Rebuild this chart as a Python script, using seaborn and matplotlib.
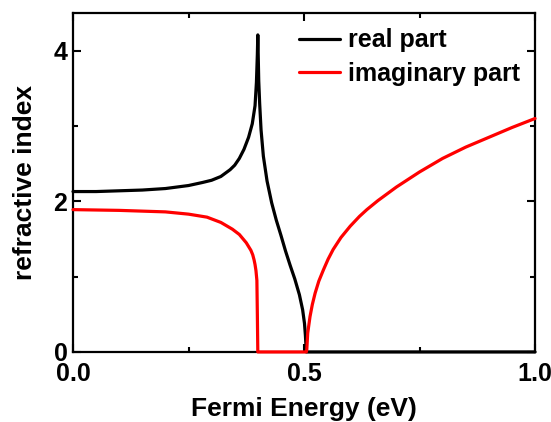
import matplotlib
matplotlib.use("Agg")
import matplotlib.pyplot as plt
import seaborn as sns
import pandas as pd
from matplotlib.ticker import MultipleLocator

# Fermi energy (eV) and refractive index values
real_x = [0.000, 0.050, 0.100, 0.150, 0.200, 0.250, 0.280, 0.300, 0.320, 0.340,
          0.350, 0.360, 0.370, 0.380, 0.388, 0.394, 0.397, 0.399, 0.400,
          0.401, 0.402, 0.404, 0.407, 0.412, 0.420, 0.430, 0.440, 0.450,
          0.460, 0.470, 0.480, 0.490, 0.497, 0.501, 0.503, 0.505, 0.600,
          0.800, 1.000]
real_y = [2.13, 2.13, 2.14, 2.15, 2.17, 2.21, 2.25, 2.28, 2.33, 2.42,
          2.48, 2.57, 2.69, 2.85, 3.03, 3.27, 3.58, 3.95, 4.21,
          3.90, 3.60, 3.30, 2.95, 2.60, 2.27, 1.98, 1.75, 1.55,
          1.34, 1.15, 0.97, 0.76, 0.56, 0.38, 0.22, 0.00, 0.00,
          0.00, 0.00]

imag_x = [0.000, 0.100, 0.200, 0.250, 0.290, 0.320, 0.345, 0.360, 0.375, 0.380,
          0.385, 0.389, 0.392, 0.394, 0.396, 0.398, 0.399, 0.400, 0.505, 0.506,
          0.508, 0.513, 0.518, 0.524, 0.532, 0.542, 0.552, 0.563, 0.580, 0.600,
          0.620, 0.636, 0.660, 0.680, 0.700, 0.750, 0.800, 0.850, 0.900, 0.950,
          1.000]
imag_y = [1.89, 1.88, 1.86, 1.83, 1.79, 1.72, 1.63, 1.56, 1.45, 1.40,
          1.35, 1.29, 1.22, 1.16, 1.08, 0.95, 0.50, 0.00, 0.00, 0.03,
          0.25, 0.47, 0.63, 0.78, 0.94, 1.09, 1.23, 1.36, 1.52, 1.67,
          1.80, 1.89, 2.01, 2.10, 2.19, 2.39, 2.57, 2.72, 2.85, 2.98,
          3.10]

series_labels = ["real part", "imaginary part"]
series_colors = ["black", "red"]

x_ticks = [0.0, 0.5, 1.0]
x_tick_labels = ["0.0", "0.5", "1.0"]
y_ticks = [0, 2, 4]
y_tick_labels = ["0", "2", "4"]

sns.set_style("ticks")
plt.rcParams["font.family"] = ["Liberation Sans", "DejaVu Sans"]
plt.rcParams["font.weight"] = "bold"
plt.rcParams["text.color"] = "black"
plt.rcParams["axes.labelcolor"] = "black"
plt.rcParams["xtick.color"] = "black"
plt.rcParams["ytick.color"] = "black"

fig = plt.figure(figsize=(5.51, 4.22), dpi=100)
ax = fig.add_axes([0.1325, 0.166, 0.8385, 0.803])

frames = [pd.DataFrame({"E": real_x, "n": real_y}),
          pd.DataFrame({"E": imag_x, "n": imag_y})]
for df, lab, col in zip(frames, series_labels, series_colors):
    sns.lineplot(data=df, x="E", y="n", ax=ax, sort=False, estimator=None,
                 color=col, linewidth=2.3, label=lab, clip_on=False, zorder=5)

ax.set_xlim(0, 1.0)
ax.set_ylim(0, 4.5)
ax.set_xticks(x_ticks)
ax.set_xticklabels(x_tick_labels)
ax.set_yticks(y_ticks)
ax.set_yticklabels(y_tick_labels)
ax.xaxis.set_minor_locator(MultipleLocator(0.25))
ax.yaxis.set_minor_locator(MultipleLocator(1))

ax.tick_params(which="both", direction="in", top=True, right=True,
               width=1.5, color="black", labelcolor="black")
ax.tick_params(which="major", length=6, labelsize=18)
ax.tick_params(axis="x", which="major", pad=7)
ax.tick_params(axis="y", which="major", pad=4)
ax.tick_params(which="minor", length=3.5)
for lbl in ax.get_xticklabels() + ax.get_yticklabels():
    lbl.set_fontweight("bold")

for s in ax.spines.values():
    s.set_linewidth(1.6)
    s.set_color("black")

ax.set_xlabel("Fermi Energy (eV)", fontsize=19, fontweight="bold", labelpad=8)
ax.set_ylabel("refractive index", fontsize=19, fontweight="bold", labelpad=12)

leg = ax.legend(loc="upper left", bbox_to_anchor=(0.440, 1.021), frameon=False,
                fontsize=18, handlelength=1.65, handletextpad=0.3,
                labelspacing=0.38, borderpad=0.4)
for t in leg.get_texts():
    t.set_fontweight("bold")
    t.set_color("black")

fig.savefig("out.png", dpi=100)
